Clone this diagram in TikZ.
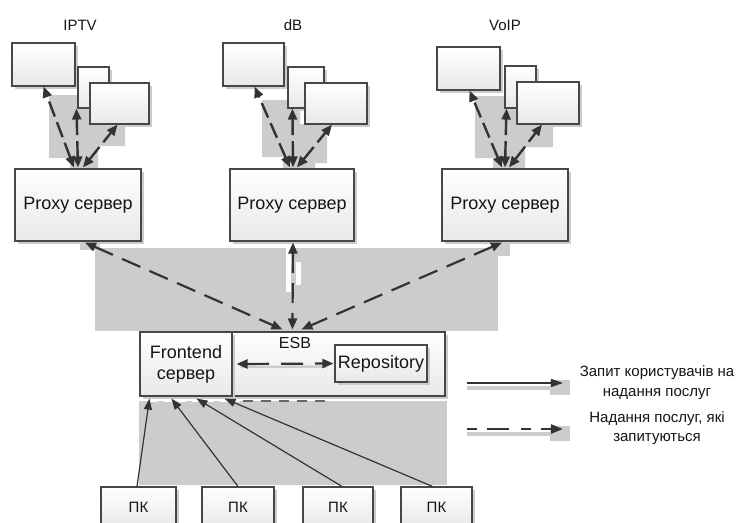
\documentclass[tikz,border=0pt]{standalone}
\usepackage{fontspec}
\setmainfont{Liberation Sans}
\usetikzlibrary{arrows.meta,shadows,calc}
\definecolor{boxline}{HTML}{474747}
\definecolor{arrowc}{HTML}{333333}
\definecolor{regiongray}{HTML}{CCCCCC}
\definecolor{boxbot}{HTML}{E8E8E8}
\definecolor{txt}{HTML}{151515}

\begin{document}
\begin{tikzpicture}[x=1pt,y=-1pt,
  box/.style={draw=boxline, line width=1.1pt, top color=white, bottom color=boxbot,
    inner sep=0pt, text=txt,
    drop shadow={shadow xshift=3pt, shadow yshift=-3pt, fill=black!20, opacity=1}},
  bigfont/.style={font=\fontsize{18}{21}\selectfont},
  midfont/.style={font=\fontsize{15}{19.5}\selectfont},
  lbl/.style={midfont, text=txt, inner sep=0pt},
  linkarrow/.style={draw=arrowc, line width=2.4pt, dash pattern=on 16pt off 6pt,
    {Triangle[length=11pt,width=9pt]}-{Triangle[length=11pt,width=9pt]}},
  busarrow/.style={draw=arrowc, line width=2.2pt, dash pattern=on 20pt off 10pt,
    {Triangle[length=11pt,width=9pt]}-{Triangle[length=11pt,width=9pt]}},
  reqarrow/.style={draw=arrowc, line width=1.2pt, -{Triangle[length=11pt,width=8pt]}},
]
\useasboundingbox (0,0) rectangle (736,522);
\clip (0,0) rectangle (736,522);
\fill[white] (0,0) rectangle (736,522);

% shaded zones behind the connectors
\fill[regiongray] (49,95) -- (110,95) -- (110,124) -- (125,124) -- (125,146) -- (98,146)
  -- (98,174) -- (70,174) -- (70,158) -- (49,158) -- cycle;
\fill[regiongray] (262,100) -- (300,100) -- (300,124) -- (327,124) -- (327,163) -- (315,163)
  -- (315,170) -- (283,170) -- (283,157) -- (262,157) -- cycle;
\fill[regiongray] (475,96) -- (517,96) -- (517,124) -- (553,124) -- (553,147) -- (525,147)
  -- (525,169) -- (493,169) -- (493,158) -- (475,158) -- cycle;
\fill[regiongray] (95,248) rectangle (498,331);
\fill[regiongray] (80,243) rectangle (100,250);
\fill[regiongray] (495,243) rectangle (510,256);
\fill[white] (286,243) rectangle (291,292);
\fill[white] (296,262) rectangle (301,285);
\fill[regiongray] (139,401) rectangle (447,485);
\draw[white, line width=2pt, dash pattern=on 8pt off 6pt] (150,401) -- (240,401);
\draw[black!60, line width=1.5pt, dash pattern=on 10pt off 8pt] (243,401) -- (332,401);

% service group titles
\node[lbl] (tIPTV) at (80,25) {IPTV};
\node[lbl] (tdB) at (293,25) {dB};
\node[lbl] (tVoIP) at (505,25) {VoIP};

% IPTV servers
\node[box, minimum width=63pt, minimum height=43pt] (ib1) at (43.5,64.5) {};
\node[box, minimum width=31pt, minimum height=41pt] (ib2) at (93.5,87.5) {};
\node[box, minimum width=59pt, minimum height=41pt] (ib3) at (119.5,103.5) {};
% dB servers
\node[box, minimum width=61pt, minimum height=43pt] (db1) at (253.5,64.5) {};
\node[box, minimum width=36pt, minimum height=41pt] (db2) at (306,87.5) {};
\node[box, minimum width=62pt, minimum height=41pt] (db3) at (336,103.5) {};
% VoIP servers
\node[box, minimum width=63pt, minimum height=43pt] (vb1) at (468.5,68.5) {};
\node[box, minimum width=31pt, minimum height=42pt] (vb2) at (520.5,87) {};
\node[box, minimum width=62pt, minimum height=42pt] (vb3) at (548,103) {};

% proxy servers
\node[box, bigfont, minimum width=126pt, minimum height=72pt] (ipx) at (78,205) {Proxy сервер};
\node[box, bigfont, minimum width=124pt, minimum height=72pt] (dpx) at (292,205) {Proxy сервер};
\node[box, bigfont, minimum width=126pt, minimum height=72pt] (vpx) at (505,205) {Proxy сервер};

% bus and frontend
\node[box, minimum width=213pt, minimum height=64pt] (esb) at (338.5,364) {};
\node[lbl, font=\fontsize{16}{19}\selectfont] (esbl) at (295,343) {ESB};
\node[box, bigfont, minimum width=92pt, minimum height=37pt] (rep) at (381,363.5) {Repository};
\node[box, bigfont, align=center, minimum width=92pt, minimum height=64pt] (fe) at (186,364) {Frontend\\сервер};

% client computers
\node[box, midfont, minimum width=75pt, minimum height=40pt] (pc1) at (138.5,507) {ПК};
\node[box, midfont, minimum width=72pt, minimum height=40pt] (pc2) at (238,507) {ПК};
\node[box, midfont, minimum width=70pt, minimum height=40pt] (pc3) at (338,507) {ПК};
\node[box, midfont, minimum width=71pt, minimum height=40pt] (pc4) at (436.5,507) {ПК};

% proxy to service servers
\draw[linkarrow] ($(ipx.north)+(-4,-1)$) -- (ib1.south);
\draw[linkarrow] ($(ipx.north)+(0,-1)$) -- ($(ib2.south west)+(-1,0)$);
\draw[linkarrow] ($(ipx.north)+(5,-1)$) -- ($(ib3.south)+(-2,0)$);
\draw[linkarrow] ($(dpx.north)+(-2,-1)$) -- ($(db1.south)+(1,0)$);
\draw[linkarrow] ($(dpx.north)+(1,-1)$) -- ($(db2.south west)+(5,0)$);
\draw[linkarrow] ($(dpx.north)+(5,-1)$) -- ($(db3.south)+(-4,0)$);
\draw[linkarrow] ($(vpx.north)+(-3,-1)$) -- ($(vb1.south)+(1,0)$);
\draw[linkarrow] ($(vpx.north)+(0,-1)$) -- ($(vb2.south west)+(2,0)$);
\draw[linkarrow] ($(vpx.north)+(4,-1)$) -- ($(vb3.south)+(-6,0)$);

% proxies to the bus
\draw[busarrow] ($(ipx.south)+(7,1)$) -- ($(esb.north west)+(51,-2)$);
\draw[busarrow] ($(dpx.south)+(1,1)$) -- ($(esb.north west)+(61,-2)$);
\draw[busarrow] ($(vpx.south)+(-3,1)$) -- ($(esb.north west)+(70,-2)$);

% frontend to repository
\draw[regiongray, line width=2.5pt] ($(fe.east)+(8,3)$) -- ($(rep.west)+(-8,3)$);
\draw[linkarrow, line width=2.2pt, dash pattern=on 22pt off 12pt] ($(fe.east)+(4,0)$) -- ($(rep.west)+(-1,0)$);

% client requests
\draw[reqarrow] ($(pc1.north)+(-1.5,0)$) -- ($(fe.south west)+(10,2)$);
\draw[reqarrow] (pc2.north) -- ($(fe.south west)+(32,2)$);
\draw[reqarrow] ($(pc3.north)+(4,0)$) -- ($(fe.south west)+(57,2)$);
\draw[reqarrow] ($(pc4.north)+(-4,0)$) -- ($(fe.south west)+(85,2)$);

% legend
\coordinate (ls1) at (467,383);
\coordinate (le1) at (563,383);
\coordinate (ls2) at (467,429);
\coordinate (le2) at (563,429);
\fill[regiongray] (467,386) rectangle (550,390);
\fill[regiongray] (550,380) rectangle (570,395);
\fill[regiongray] (467,432) rectangle (550,436);
\fill[regiongray] (550,426) rectangle (570,441);
\draw[draw=arrowc, line width=1.4pt, -{Triangle[length=12pt,width=8pt]}] (ls1) -- (le1);
\draw[draw=arrowc, line width=2.6pt, dash pattern=on 10pt off 10pt on 22pt off 12pt,
  -{Triangle[length=12pt,width=9pt]}] (ls2) -- (le2);
\node[lbl, align=center] (lg1) at (657,382.5) {Запит користувачів на\\надання послуг};
\node[lbl, align=center] (lg2) at (657,428) {Надання послуг, які\\запитуються};
\end{tikzpicture}
\end{document}
